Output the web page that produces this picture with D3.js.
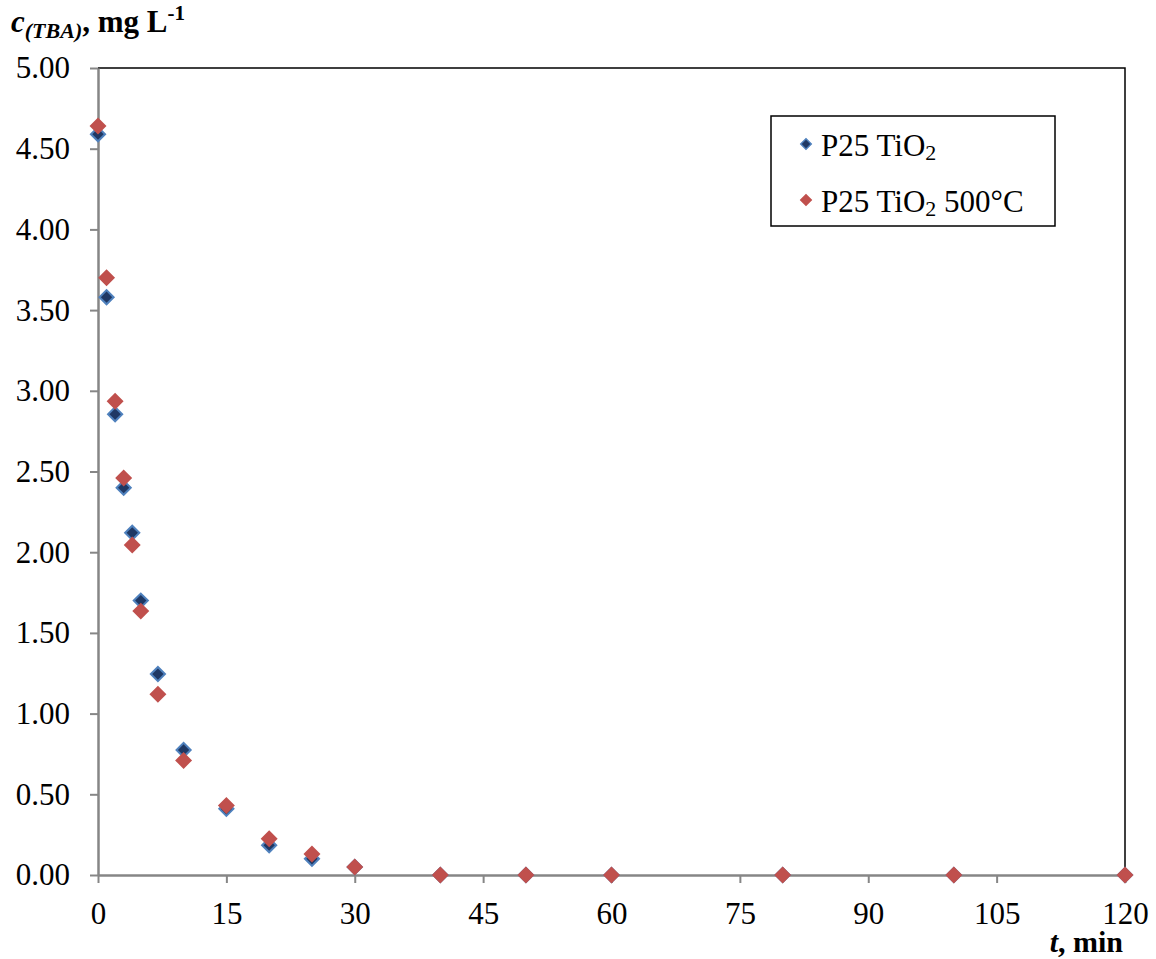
<!DOCTYPE html>
<html><head><meta charset="utf-8">
<script src="https://cdn.jsdelivr.net/npm/d3@7"></script>
<style>body{margin:0;background:#fff}svg text{font-family:"Liberation Serif","Times New Roman",serif}</style>
</head><body>
<svg id="c" width="1156" height="959"></svg>
<script>
const times = [0,1,2,3,4,5,7,10,15,20,25,30,40,50,60,80,100,120];
const p25 = [4.59,3.58,2.855,2.40,2.12,1.70,1.245,0.775,0.41,0.185,0.10,0.05,0,0,0,0,0,0];
const p25_500 = [4.64,3.70,2.935,2.46,2.045,1.635,1.12,0.71,0.43,0.225,0.13,0.05,0,0,0,0,0,0];
const xTicks = [0,15,30,45,60,75,90,105,120];
const yTicks = [0,0.5,1,1.5,2,2.5,3,3.5,4,4.5,5];
const seriesNames = ["P25 TiO\u2082","P25 TiO\u2082 500\u00B0C"];

const svg = d3.select("#c");
const L=98, R=1125, T=68, B=875;
const x = d3.scaleLinear().domain([0,120]).range([L,R]);
const y = d3.scaleLinear().domain([0,5]).range([B,T]);

svg.append("path").attr("d",`M${L},${T}H${R}V${B}`).attr("fill","none").attr("stroke","#000").attr("stroke-width",1.5);

const xa = svg.append("g").attr("transform",`translate(0,${B})`)
  .call(d3.axisBottom(x).tickValues(xTicks).tickSize(8).tickSizeOuter(0).tickPadding(19));
const ya = svg.append("g").attr("transform",`translate(${L},0)`)
  .call(d3.axisLeft(y).tickValues(yTicks).tickFormat(d3.format(".2f")).tickSize(8).tickSizeOuter(0).tickPadding(20));
[xa,ya].forEach(a=>{
  a.attr("font-family",null);
  a.select(".domain").attr("stroke","#868686").attr("stroke-width",2.5);
  a.selectAll(".tick line").attr("stroke","#868686").attr("stroke-width",2);
  a.selectAll(".tick text").attr("fill","#000").attr("font-size",31);
});

function drawSeries(vals, fill, stroke){
  svg.append("g").selectAll("path").data(times.map((t,i)=>[t,vals[i]])).join("path")
    .attr("d", d3.symbol().type(d3.symbolSquare).size(100))
    .attr("transform",d=>`translate(${x(d[0])},${y(d[1])}) rotate(45)`)
    .attr("fill",fill).attr("stroke",stroke).attr("stroke-width",2);
}
drawSeries(p25,"#1F3864","#4F81BD");
drawSeries(p25_500,"#C0504D","#C0504D");

// legend
const lg = svg.append("g");
lg.append("rect").attr("x",771).attr("y",116).attr("width",284).attr("height",110).attr("fill","#fff").attr("stroke","#000").attr("stroke-width",1.5);
const lcol=[["#1F3864","#4F81BD"],["#C0504D","#C0504D"]];
seriesNames.forEach((n,i)=>{
  const yy = 144 + i*56;
  lg.append("path").attr("d",d3.symbol().type(d3.symbolSquare).size(55)).attr("transform",`translate(806,${yy}) rotate(45)`)
    .attr("fill",lcol[i][0]).attr("stroke",lcol[i][1]).attr("stroke-width",1.5);
  const t = lg.append("text").attr("x",821).attr("y",yy+12).attr("font-size",31).attr("fill","#000");
  t.append("tspan").text("P25 TiO");
  t.append("tspan").attr("font-size",22).attr("dy",4).text("2");
  if(i===1) t.append("tspan").attr("dy",-4).text(" 500\u00B0C");
});

// y title
const yt = svg.append("text").attr("x",11).attr("y",32).attr("font-size",31).attr("font-weight","bold").attr("fill","#000");
yt.append("tspan").attr("font-style","italic").text("c");
yt.append("tspan").attr("font-style","italic").attr("font-size",22).attr("dy",6).text("(TBA)");
yt.append("tspan").attr("dy",-6).text(", mg L");
yt.append("tspan").attr("font-size",21).attr("dy",-12).text("-1");

// x title
const xt = svg.append("text").attr("x",1123).attr("y",952).attr("text-anchor","end").attr("font-size",30).attr("font-weight","bold").attr("fill","#000");
xt.append("tspan").attr("font-style","italic").text("t");
xt.append("tspan").text(", min");
</script>
</body></html>
